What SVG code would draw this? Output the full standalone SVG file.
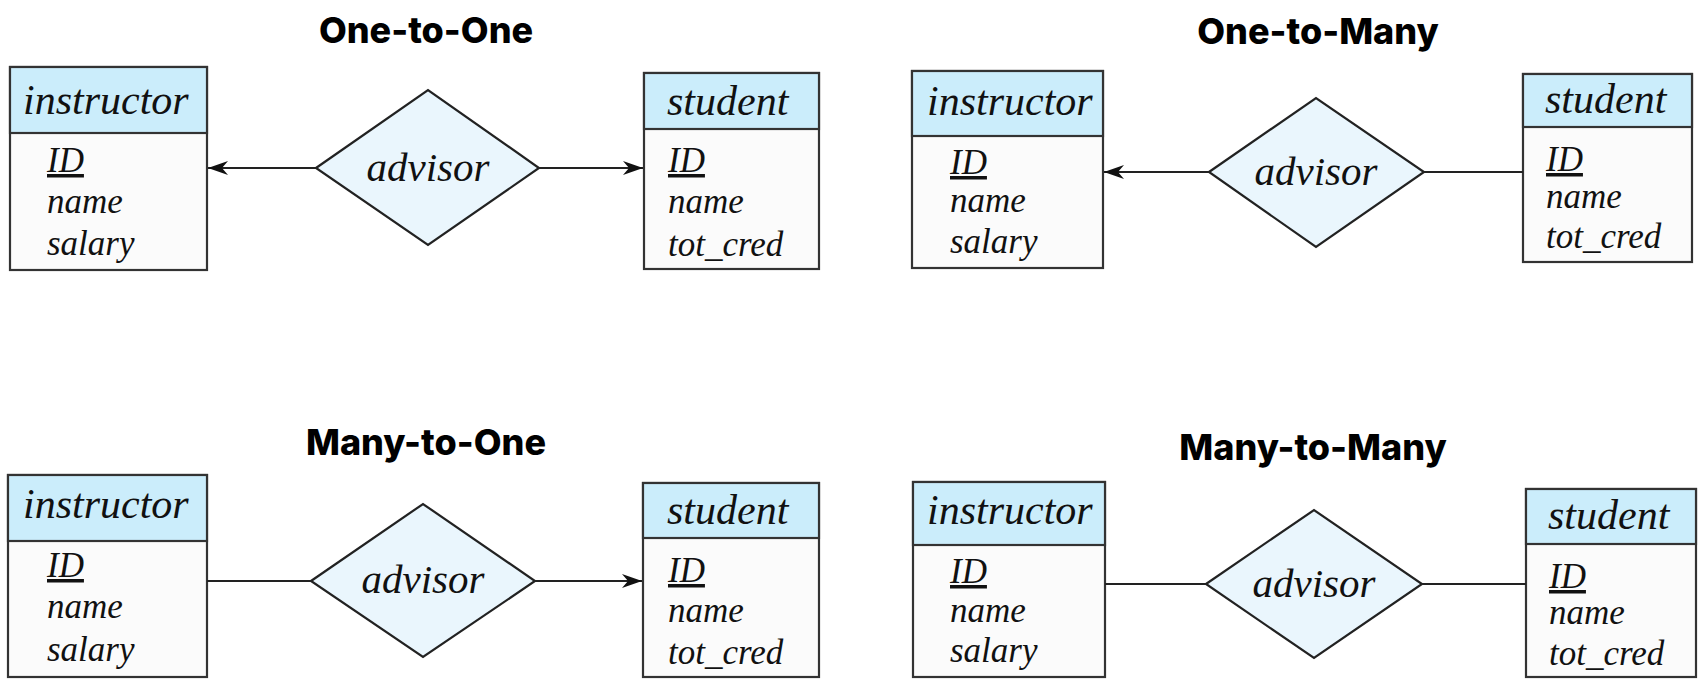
<svg xmlns="http://www.w3.org/2000/svg" width="1704" height="688" viewBox="0 0 1704 688">
<defs>
<style>
.title{font-family:Inter,"Liberation Sans",sans-serif;font-weight:800;font-size:36px;fill:#000;text-anchor:middle}
.hdr{fill:#cbedfb;stroke:#333;stroke-width:2.2}
.body{fill:#fbfbfb;stroke:#333;stroke-width:2.2}
.ename{font-family:"Liberation Serif",serif;font-style:italic;font-size:42px;fill:#111}
.attr{font-family:"Liberation Serif",serif;font-style:italic;font-size:35px;fill:#111}
.pk{text-decoration:underline}
.rel{fill:#eaf6fd;stroke:#222;stroke-width:2.2}
.rname{font-family:"Liberation Serif",serif;font-style:italic;font-size:41px;fill:#111;text-anchor:middle}
.conn{stroke:#222;stroke-width:2.2;fill:none}
</style>
<marker id="arr" viewBox="0 -9 22 18" markerWidth="22" markerHeight="18" refX="20" refY="0" orient="auto" markerUnits="userSpaceOnUse">
<path d="M0,-7 L20,0 L0,7 L6,0 Z" fill="#111"/>
</marker>
</defs>
<rect width="1704" height="688" fill="#fff"/>

<g id="titles">
<text class="title" x="426" y="43">One-to-One</text>
<text class="title" x="1318" y="44">One-to-Many</text>
<text class="title" x="426" y="455">Many-to-One</text>
<text class="title" x="1313" y="460">Many-to-Many</text>
</g>

<!-- Quadrant 1 -->
<g id="instructor1">
<rect class="body" x="10" y="67" width="197" height="203"/>
<rect class="hdr" x="10" y="67" width="197" height="66"/>
<text class="ename" x="23" y="114">instructor</text>
<text class="attr pk" x="47" y="172">ID</text>
<text class="attr" x="47" y="213">name</text>
<text class="attr" x="47" y="255">salary</text>
</g>
<g id="student1">
<rect class="body" x="644" y="73" width="175" height="196"/>
<rect class="hdr" x="644" y="73" width="175" height="56"/>
<text class="ename" x="667" y="115">student</text>
<text class="attr pk" x="668" y="172">ID</text>
<text class="attr" x="668" y="213">name</text>
<text class="attr" x="668" y="256">tot_cred</text>
</g>
<g id="advisor1">
<polygon class="rel" points="316,168 428,90 539,168 428,245"/>
<text class="rname" x="428" y="181">advisor</text>
</g>

<!-- Quadrant 2 -->
<g id="instructor2">
<rect class="body" x="912" y="71" width="191" height="197"/>
<rect class="hdr" x="912" y="71" width="191" height="65"/>
<text class="ename" x="927" y="115">instructor</text>
<text class="attr pk" x="950" y="174">ID</text>
<text class="attr" x="950" y="212">name</text>
<text class="attr" x="950" y="253">salary</text>
</g>
<g id="student2">
<rect class="body" x="1523" y="74" width="169" height="188"/>
<rect class="hdr" x="1523" y="74" width="169" height="53"/>
<text class="ename" x="1545" y="113">student</text>
<text class="attr pk" x="1546" y="171">ID</text>
<text class="attr" x="1546" y="208">name</text>
<text class="attr" x="1546" y="248">tot_cred</text>
</g>
<g id="advisor2">
<polygon class="rel" points="1209,172 1316,98 1424,172 1316,247"/>
<text class="rname" x="1316" y="185">advisor</text>
</g>

<!-- Quadrant 3 -->
<g id="instructor3">
<rect class="body" x="8" y="475" width="199" height="202"/>
<rect class="hdr" x="8" y="475" width="199" height="66"/>
<text class="ename" x="23" y="518">instructor</text>
<text class="attr pk" x="47" y="577">ID</text>
<text class="attr" x="47" y="618">name</text>
<text class="attr" x="47" y="661">salary</text>
</g>
<g id="student3">
<rect class="body" x="643" y="483" width="176" height="194"/>
<rect class="hdr" x="643" y="483" width="176" height="55"/>
<text class="ename" x="667" y="524">student</text>
<text class="attr pk" x="668" y="582">ID</text>
<text class="attr" x="668" y="622">name</text>
<text class="attr" x="668" y="664">tot_cred</text>
</g>
<g id="advisor3">
<polygon class="rel" points="311,581 423,504 535,581 423,657"/>
<text class="rname" x="423" y="593">advisor</text>
</g>

<!-- Quadrant 4 -->
<g id="instructor4">
<rect class="body" x="913" y="482" width="192" height="195"/>
<rect class="hdr" x="913" y="482" width="192" height="63"/>
<text class="ename" x="927" y="524">instructor</text>
<text class="attr pk" x="950" y="583">ID</text>
<text class="attr" x="950" y="622">name</text>
<text class="attr" x="950" y="662">salary</text>
</g>
<g id="student4">
<rect class="body" x="1526" y="489" width="170" height="188"/>
<rect class="hdr" x="1526" y="489" width="170" height="55"/>
<text class="ename" x="1548" y="529">student</text>
<text class="attr pk" x="1549" y="588">ID</text>
<text class="attr" x="1549" y="624">name</text>
<text class="attr" x="1549" y="665">tot_cred</text>
</g>
<g id="advisor4">
<polygon class="rel" points="1206,584 1314,510 1422,584 1314,658"/>
<text class="rname" x="1314" y="597">advisor</text>
</g>

<g id="connectors">
<line class="conn" x1="316" y1="168" x2="208" y2="168" marker-end="url(#arr)"/>
<line class="conn" x1="539" y1="168" x2="643" y2="168" marker-end="url(#arr)"/>
<line class="conn" x1="1209" y1="172" x2="1104" y2="172" marker-end="url(#arr)"/>
<line class="conn" x1="1424" y1="172" x2="1523" y2="172"/>
<line class="conn" x1="207" y1="581" x2="311" y2="581"/>
<line class="conn" x1="535" y1="581" x2="642" y2="581" marker-end="url(#arr)"/>
<line class="conn" x1="1105" y1="584" x2="1206" y2="584"/>
<line class="conn" x1="1422" y1="584" x2="1526" y2="584"/>
</g>
</svg>
